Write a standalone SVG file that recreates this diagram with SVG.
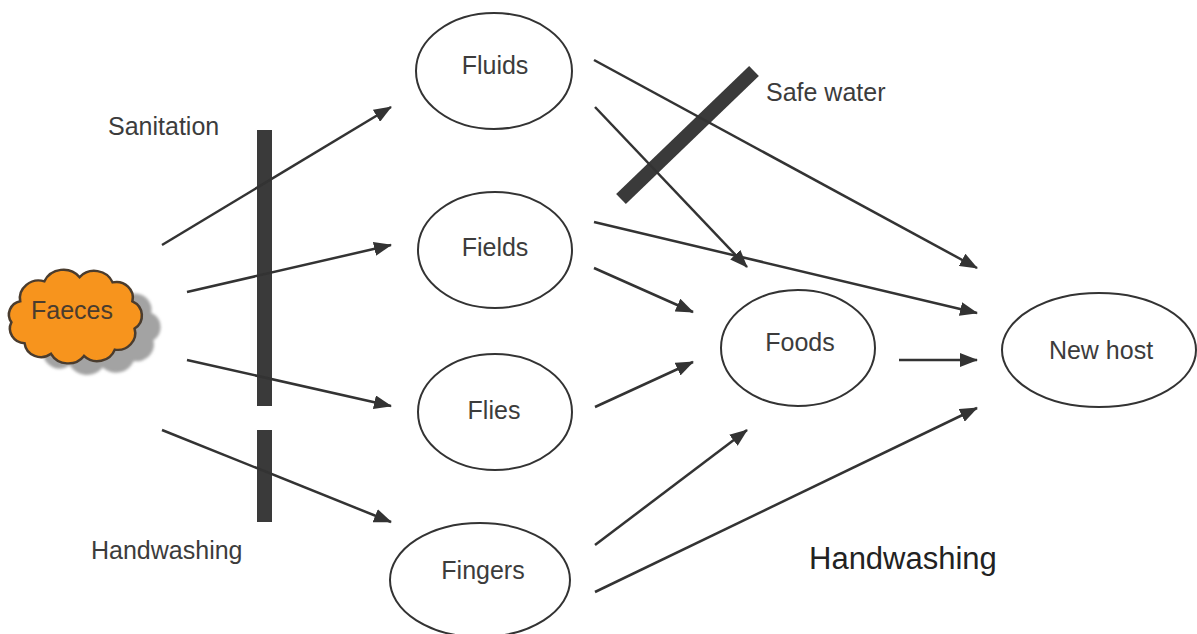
<svg xmlns="http://www.w3.org/2000/svg" width="1197" height="634" viewBox="0 0 1197 634">
  <style>
    .node ellipse { fill: #ffffff; stroke: #333333; stroke-width: 2; }
    .label { font-family: "Liberation Sans", Arial, sans-serif; font-size: 25px; fill: #3c3c3c; }
    .big { font-family: "Liberation Sans", Arial, sans-serif; font-size: 31px; fill: #222222; }
    .edge { stroke: #333333; stroke-width: 2.5; fill: none; marker-end: url(#head); }
    .bar { fill: #3a3a3a; }
  </style>
  <defs>
    <marker id="head" markerUnits="userSpaceOnUse" viewBox="0 0 18 14" refX="17" refY="7" markerWidth="18" markerHeight="14" orient="auto">
      <path d="M0,0 L18,7 L0,14 Z" fill="#333333"/>
    </marker>
    <path id="cloud" d="M22,302 A17,17 0 0 1 44,283 A19,19 0 0 1 76,279 A18,18 0 0 1 106,284 A15,15 0 0 1 124,302 A15,15 0 0 1 126,328 A16,16 0 0 1 108,348 A17,17 0 0 1 80,354 A18,18 0 0 1 50,352 A15,15 0 0 1 26,342 A14,14 0 0 1 14,322 A13,13 0 0 1 22,302 Z"/>
    <filter id="soft" x="-20%" y="-20%" width="140%" height="140%">
      <feGaussianBlur stdDeviation="1.5"/>
    </filter>
  </defs>

  <!-- barriers -->
  <g id="barriers">
    <rect class="bar" x="257" y="130" width="15" height="276"/>
    <rect class="bar" x="257" y="430" width="15" height="92"/>
    <line x1="621" y1="199" x2="754" y2="71" stroke="#3a3a3a" stroke-width="14"/>
  </g>

  <!-- source cloud -->
  <g id="faeces">
    <g transform="translate(73,316) scale(1.1,1.05) translate(-70,-316)">
      <use href="#cloud" transform="translate(17,11)" fill="#a3a3a3" filter="url(#soft)"/>
      <use href="#cloud" fill="#f7941d" stroke="#4a3c2e" stroke-width="2.3"/>
    </g>
    <text x="72" y="319" text-anchor="middle" font-family="Liberation Sans, Arial, sans-serif" font-size="25" fill="#4a3c2e">Faeces</text>
  </g>

  <g id="fluids" class="node">
    <ellipse cx="494" cy="71" rx="78" ry="58"/>
    <text class="label" x="495" y="74" text-anchor="middle">Fluids</text>
  </g>
  <g id="fields" class="node">
    <ellipse cx="495" cy="250" rx="77" ry="58"/>
    <text class="label" x="495" y="256" text-anchor="middle">Fields</text>
  </g>
  <g id="flies" class="node">
    <ellipse cx="495" cy="412" rx="77" ry="58"/>
    <text class="label" x="494" y="419" text-anchor="middle">Flies</text>
  </g>
  <g id="fingers" class="node">
    <ellipse cx="480" cy="580" rx="90" ry="57"/>
    <text class="label" x="483" y="579" text-anchor="middle">Fingers</text>
  </g>
  <g id="foods" class="node">
    <ellipse cx="798" cy="348" rx="77" ry="58"/>
    <text class="label" x="800" y="351" text-anchor="middle">Foods</text>
  </g>
  <g id="newhost" class="node">
    <ellipse cx="1099" cy="350" rx="97" ry="57"/>
    <text class="label" x="1101" y="359" text-anchor="middle">New host</text>
  </g>

  <!-- connectors -->
  <g id="connectors">
    <line class="edge" x1="162" y1="245" x2="391" y2="107"/>
    <line class="edge" x1="187" y1="292" x2="391" y2="245"/>
    <line class="edge" x1="187" y1="360" x2="391" y2="406"/>
    <line class="edge" x1="162" y1="430" x2="391" y2="522"/>
    <line class="edge" x1="594" y1="60" x2="977" y2="268"/>
    <line class="edge" x1="595" y1="107" x2="747" y2="267"/>
    <line class="edge" x1="594" y1="222" x2="977" y2="313"/>
    <line class="edge" x1="594" y1="268" x2="693" y2="312"/>
    <line class="edge" x1="595" y1="407" x2="693" y2="362"/>
    <line class="edge" x1="595" y1="545" x2="747" y2="430"/>
    <line class="edge" x1="595" y1="592" x2="977" y2="408"/>
    <line class="edge" x1="899" y1="360" x2="977" y2="360"/>
  </g>

  <!-- intervention labels -->
  <g id="labels">
    <text class="label" x="108" y="135">Sanitation</text>
    <text class="label" x="91" y="559">Handwashing</text>
    <text class="label" x="766" y="101">Safe water</text>
    <text class="big" x="809" y="569">Handwashing</text>
  </g>
</svg>
